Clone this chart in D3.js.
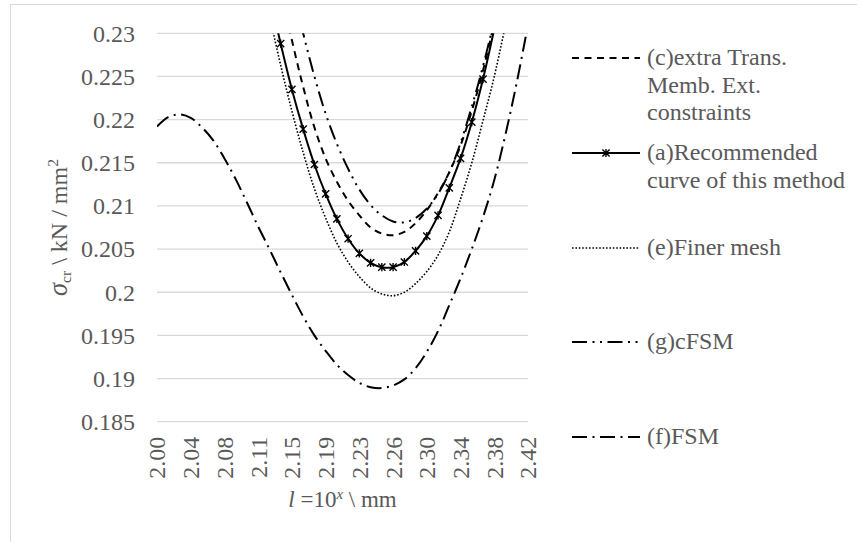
<!DOCTYPE html>
<html><head><meta charset="utf-8">
<script src="https://cdn.jsdelivr.net/npm/d3@7/dist/d3.min.js"></script>
<style>body{margin:0;background:#fff}svg{display:block}</style>
</head><body>
<svg id="chart" width="857" height="542"></svg>
<script>
// ---- data ----
const xValues = [2.0000, 2.0126, 2.0252, 2.0378, 2.0504, 2.0630, 2.0756, 2.0882, 2.1008, 2.1134,
  2.1260, 2.1386, 2.1512, 2.1638, 2.1764, 2.1890, 2.2016, 2.2142, 2.2268, 2.2394,
  2.2520, 2.2646, 2.2772, 2.2898, 2.3024, 2.3150, 2.3276, 2.3402, 2.3528, 2.3654,
  2.3780, 2.3906, 2.4032, 2.4158];
const xTickValues = [2.0000, 2.0378, 2.0756, 2.1134, 2.1512, 2.1890, 2.2268, 2.2646, 2.3024, 2.3402, 2.3780, 2.4158];
const xTickLabels = ["2.00","2.04","2.08","2.11","2.15","2.19","2.23","2.26","2.30","2.34","2.38","2.42"];
const yTickValues = [0.185, 0.19, 0.195, 0.2, 0.205, 0.21, 0.215, 0.22, 0.225, 0.23];
const yTickLabels = ["0.185","0.19","0.195","0.2","0.205","0.21","0.215","0.22","0.225","0.23"];

const extraTrans = [null,null,null,null,null,null,null,null,null,null,
  null, 0.2350, 0.2292, 0.2238, 0.2191, 0.2155, 0.2128, 0.2106, 0.2089, 0.2075,
  0.2068, 0.2066, 0.2070, 0.2080, 0.2095, 0.2115, 0.2139, 0.2170, 0.2210, 0.2257,
  0.2312, null, null, null];
const recommended = [null,null,null,null,null,null,null,null,null,null,
  0.2345, 0.2288, 0.2235, 0.2189, 0.2148, 0.2114, 0.2085, 0.2062, 0.2045, 0.2034,
  0.2029, 0.2029, 0.2035, 0.2048, 0.2065, 0.2089, 0.2121, 0.2155, 0.2197, 0.2247,
  0.2305, null, null, null];
const finerMesh = [null,null,null,null,null,null,null,null,null,null,
  0.2321, 0.2263, 0.2210, 0.2162, 0.2120, 0.2086, 0.2057, 0.2035, 0.2018, 0.2005,
  0.1998, 0.1996, 0.2000, 0.2010, 0.2024, 0.2043, 0.2070, 0.2108, 0.2150, 0.2199,
  0.2250, 0.2310, null, null];
const cFSM = [null,null,null,null,null,null,null,null,null,null,
  null, null, 0.2352, 0.2300, 0.2250, 0.2207, 0.2172, 0.2143, 0.2119, 0.2101,
  0.2089, 0.2082, 0.2081, 0.2086, 0.2097, 0.2114, 0.2139, 0.2173, 0.2215, 0.2262,
  0.2315, null, null, null];
const FSM = [0.2192, 0.2203, 0.2206, 0.2202, 0.2191, 0.2176, 0.2155, 0.2131, 0.2104, 0.2076,
  0.2050, 0.2023, 0.1997, 0.1972, 0.1950, 0.1932, 0.1916, 0.1904, 0.1895, 0.1890,
  0.1889, 0.1892, 0.1899, 0.1912, 0.1931, 0.1955, 0.1985, 0.2016, 0.2050, 0.2087,
  0.2130, 0.2183, 0.2243, 0.2310];

const legendLabels = [
  ["(c)extra Trans.", "Memb. Ext.", "constraints"],
  ["(a)Recommended", "curve of this method"],
  ["(e)Finer mesh"],
  ["(g)cFSM"],
  ["(f)FSM"]
];

// ---- layout ----
const svg = d3.select("#chart");
const FONT = '"Liberation Serif"';
const TXT = "#595959";
const FS = 24;
const plot = {left: 157, right: 528, top: 33.3, bottom: 421.7};

const x = d3.scaleLinear().domain([xValues[0], xValues[xValues.length-1]]).range([plot.left, plot.right]);
const y = d3.scaleLinear().domain([0.185, 0.23]).range([plot.bottom, plot.top]);

// chart border
svg.append("rect").attr("x", 10.5).attr("y", 4.5).attr("width", 1000).attr("height", 800)
  .attr("fill", "#fff").attr("stroke", "#d9d9d9").attr("stroke-width", 1);

// gridlines
svg.append("g").selectAll("line").data(yTickValues).join("line")
  .attr("x1", plot.left).attr("x2", plot.right)
  .attr("y1", d => y(d)).attr("y2", d => y(d))
  .attr("stroke", "#d9d9d9").attr("stroke-width", 1.3);

// y axis labels
const yAxis = d3.axisLeft(y).tickValues(yTickValues).tickFormat((d, i) => yTickLabels[i]).tickSize(0).tickPadding(22);
const gy = svg.append("g").attr("transform", `translate(${plot.left},0)`).call(yAxis);
gy.attr("font-family", null);
gy.select(".domain").remove();
gy.selectAll("text").style("font-family", FONT).attr("font-size", FS).attr("fill", TXT)
  .attr("dy", "0.33em");

// x axis labels (rotated)
const xAxis = d3.axisBottom(x).tickValues(xTickValues).tickFormat((d, i) => xTickLabels[i]).tickSize(0);
const gx = svg.append("g").attr("transform", `translate(0,${plot.bottom})`).call(xAxis);
gx.attr("font-family", null);
gx.select(".domain").remove();
gx.selectAll("text").style("font-family", FONT).attr("font-size", FS).attr("fill", TXT)
  .attr("text-anchor", "end").attr("y", 0).attr("dy", "0.33em")
  .attr("transform", "translate(0,15) rotate(-90)");

// clip
svg.append("defs").append("clipPath").attr("id", "clip").append("rect")
  .attr("x", plot.left).attr("y", plot.top).attr("width", plot.right - plot.left).attr("height", plot.bottom - plot.top);

const styles = [
  {data: extraTrans, dash: "7,5.5", width: 2},
  {data: recommended, dash: null, width: 2, marker: true},
  {data: finerMesh, dash: "1.6,1.8", width: 1.6},
  {data: cFSM, dash: "15,5.5,2,5.5,2,5.5", width: 2},
  {data: FSM, dash: "15,5.5,2,5.5", width: 2}
];

const line = d3.line()
  .defined(d => d[1] !== null)
  .x(d => x(d[0])).y(d => y(d[1]))
  .curve(d3.curveCatmullRom.alpha(0.5));

const gLines = svg.append("g").attr("clip-path", "url(#clip)");
const starPath = s => `M${-s},${-s}L${s},${s}M${-s},${s}L${s},${-s}M0,${-s - 0.5}L0,${s + 0.5}`;

styles.slice().reverse().forEach(st => {
  const pts = xValues.map((xv, i) => [xv, st.data[i]]);
  gLines.append("path").datum(pts).attr("d", line)
    .attr("fill", "none").attr("stroke", "#000").attr("stroke-width", st.width)
    .attr("stroke-dasharray", st.dash);
  if (st.marker) {
    gLines.append("g").selectAll("path").data(pts.filter(p => p[1] !== null && p[1] <= 0.23)).join("path")
      .attr("transform", p => `translate(${x(p[0])},${y(p[1])})`)
      .attr("d", starPath(3.6)).attr("fill", "none").attr("stroke", "#000").attr("stroke-width", 1.4);
  }
});

// axis titles
const yt = svg.append("text").style("font-family", FONT).attr("font-size", FS).attr("fill", TXT)
  .attr("text-anchor", "middle")
  .attr("transform", `translate(67,${(plot.top + plot.bottom) / 2}) rotate(-90)`);
yt.append("tspan").attr("font-style", "italic").attr("font-size", FS * 1.1).text("σ");
yt.append("tspan").attr("font-size", FS * 0.65).attr("dy", 4).text("cr");
yt.append("tspan").attr("dy", -4).text(" \\ kN / mm");
yt.append("tspan").attr("font-size", FS * 0.65).attr("dy", -9).text("2");

const xt = svg.append("text").style("font-family", FONT).attr("font-size", 23).attr("fill", TXT)
  .attr("text-anchor", "middle").attr("x", (plot.left + plot.right) / 2).attr("y", 507);
xt.append("tspan").attr("font-style", "italic").text("l");
xt.append("tspan").text(" =10");
xt.append("tspan").attr("font-size", 15).attr("font-style", "italic").attr("dy", -8).text("x");
xt.append("tspan").attr("dy", 8).text(" \\ mm");

// legend
const legY = [58, 153, 248, 342, 437];
const legX1 = 572, legX2 = 640, legTx = 647, lineGap = 27.3;
const gl = svg.append("g");
styles.forEach((st, k) => {
  const cy = legY[k];
  gl.append("line").attr("x1", legX1).attr("x2", legX2).attr("y1", cy).attr("y2", cy)
    .attr("stroke", "#000").attr("stroke-width", st.width).attr("stroke-dasharray", st.dash);
  if (st.marker) {
    gl.append("path").attr("transform", `translate(${(legX1 + legX2) / 2},${cy})`)
      .attr("d", starPath(3.6)).attr("fill", "none").attr("stroke", "#000").attr("stroke-width", 1.4);
  }
  legendLabels[k].forEach((t, j) => {
    gl.append("text").attr("x", legTx).attr("y", cy + j * lineGap).attr("dy", "0.3em")
      .style("font-family", FONT).attr("font-size", FS).attr("fill", TXT).text(t);
  });
});
</script>
</body></html>
